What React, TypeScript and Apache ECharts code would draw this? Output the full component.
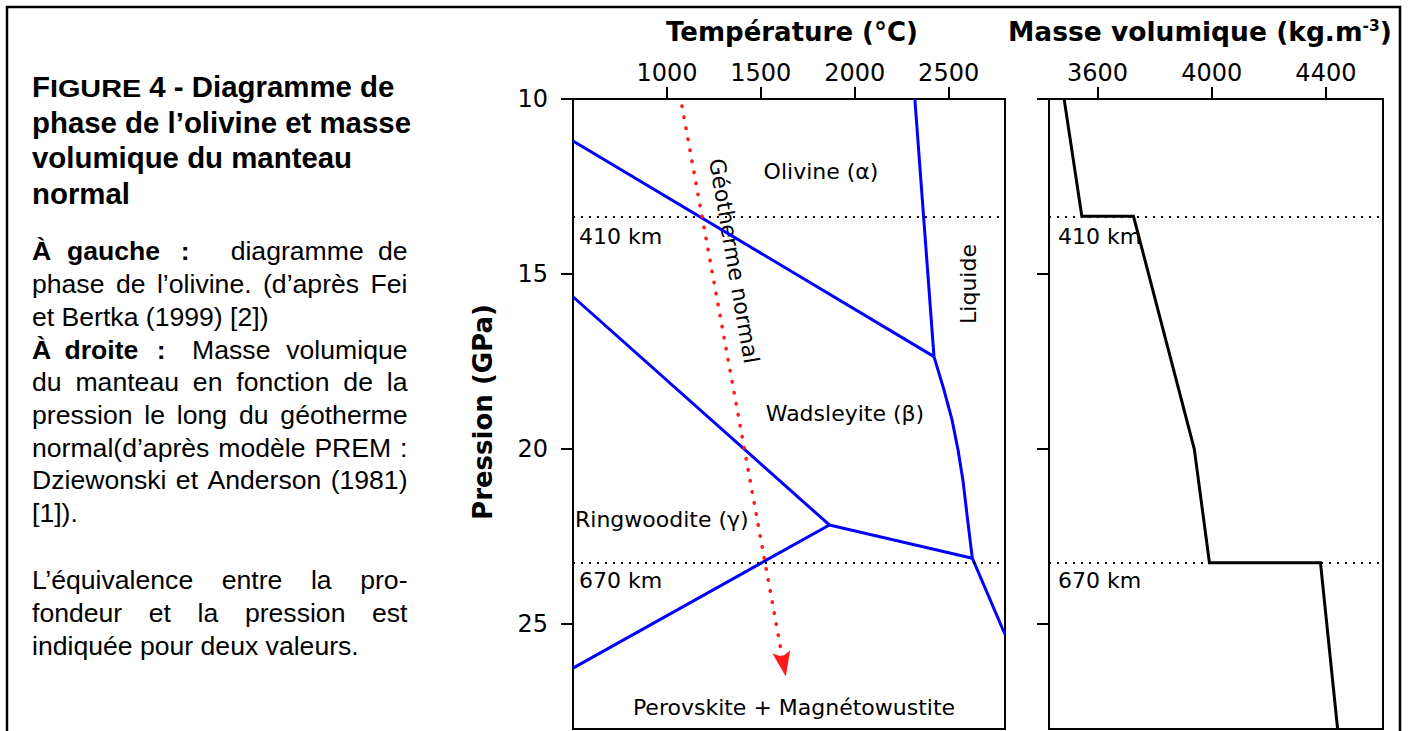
import { useEffect, useRef } from "react";
import * as echarts from "echarts";

// ---------- Data ----------
const temperatureTicks = [1000, 1500, 2000, 2500];
const densityTicks = [3600, 4000, 4400];
const pressureTicks = [10, 15, 20, 25];

// Phase boundaries of olivine: [temperature °C, pressure GPa]
const olivineWadsleyite = [[500, 11.2], [2422, 17.36]];
const olivineLiquidus = [[2320, 10], [2422, 17.36]];
const wadsleyiteLiquidus = [[2422, 17.36], [2475, 18.31], [2518, 19.17], [2550, 20.03], [2576, 20.89], [2598, 21.89], [2626, 23.12]];
const wadsleyiteRingwoodite = [[500, 15.65], [1865, 22.17]];
const ringwooditePerovskite = [[1865, 22.17], [500, 26.26]];
const wadsleyitePerovskite = [[1865, 22.17], [2626, 23.12]];
const perovskiteLiquidus = [[2626, 23.12], [2800, 25.3]];

// Normal geotherm (arrow)
const geotherm = [[1080, 10.2], [1621, 26.15]];

// Depth markers (pressure GPa)
const depthPressures = [13.35, 23.25];
const depthLabels = ["410 km", "670 km"];

// PREM density: [kg.m-3, pressure GPa]
const density = [[3483, 10], [3545, 13.35], [3726, 13.35], [3939, 20], [3992, 23.25], [4381, 23.25], [4441, 28]];

// ---------- Styling helpers ----------
const TEXT_FONT = '"Liberation Sans", Arial, Helvetica, sans-serif';
const PLOT_FONT = '"DejaVu Sans", sans-serif';
const CENTRAL = 0.3465;

let ctx2d: CanvasRenderingContext2D | null = null;
function measure(text: string, size: number, bold: boolean): number {
  if (!ctx2d) ctx2d = document.createElement("canvas").getContext("2d");
  ctx2d!.font = `${bold ? "bold " : ""}${size}px ${TEXT_FONT}`;
  return ctx2d!.measureText(text).width;
}

type Run = { t: string; b?: boolean; s?: number; sx?: number };
type Word = { runs: Run[]; gap?: number };

function textEl(x: number, y: number, text: string, size: number, bold: boolean, family: string, align = "left", extra: any = {}) {
  return {
    type: "text",
    x,
    y,
    silent: true,
    ...extra,
    style: {
      text,
      fontSize: size,
      fontWeight: bold ? "bold" : "normal",
      fontFamily: family,
      fill: "#000",
      textAlign: align,
      textVerticalAlign: "middle",
    },
  };
}

const X0 = 32;
const X1 = 407.5;

function w(t: string, b = false, gap?: number): Word {
  return { runs: [{ t, b }], gap };
}
function words(s: string, b = false): Word[] {
  return s.split(" ").map((t) => w(t, b));
}

function layoutLine(ws: Word[], baseline: number, justify: boolean, size: number): any[] {
  const els: any[] = [];
  const simple = !justify && ws.every((x) => x.runs.length === 1 && x.runs[0].s === undefined && x.runs[0].sx === undefined && x.runs[0].b === ws[0].runs[0].b);
  if (simple) {
    const bold = !!ws[0].runs[0].b;
    els.push(textEl(X0, baseline - CENTRAL * size, ws.map((x) => x.runs[0].t).join(" "), size, bold, TEXT_FONT));
    return els;
  }
  const widths = ws.map((x) => x.runs.reduce((s, r) => s + measure(r.t, r.s ?? size, !!r.b) * (r.sx ?? 1), 0));
  const total = widths.reduce((a, b) => a + b, 0);
  const weights = ws.map((x, i) => (i === 0 ? 0 : x.gap ?? 1));
  const wsum = weights.reduce((a, b) => a + b, 0);
  const space = measure(" ", size, !!ws[0].runs[0].b);
  const unit = justify && wsum > 0 ? (X1 - X0 - total) / wsum : space;
  let x = X0;
  ws.forEach((word, i) => {
    x += weights[i] * unit;
    let xr = x;
    word.runs.forEach((r) => {
      const s = r.s ?? size;
      els.push(textEl(xr, baseline - CENTRAL * s, r.t, s, !!r.b, TEXT_FONT, "left", { scaleX: r.sx ?? 1 }));
      xr += measure(r.t, s, !!r.b) * (r.sx ?? 1);
    });
    x += widths[i];
  });
  return els;
}

function buildTextPanel(): any[] {
  const T = 29.4;
  const B = 26.6;
  const els: any[] = [];
  // Title
  els.push(
    ...layoutLine(
      [
        { runs: [{ t: "F", b: true }, { t: "IGURE", b: true, s: 24, sx: 1.2 }] },
        w("4", true),
        w("-", true),
        w("Diagramme", true),
        w("de", true),
      ],
      97,
      false,
      T
    )
  );
  els.push(...layoutLine(words("phase de l’olivine et masse", true), 132.5, false, T));
  els.push(...layoutLine(words("volumique du manteau", true), 168, false, T));
  els.push(...layoutLine(words("normal", true), 203.5, false, T));
  // Body
  els.push(...layoutLine([w("À", true), w("gauche", true), w(":", true, 1.3), w("diagramme", false, 2.6), w("de", false, 0.9)], 260.5, true, B));
  els.push(...layoutLine(words("phase de l’olivine. (d’après Fei"), 293.5, true, B));
  els.push(...layoutLine(words("et Bertka (1999) [2])"), 326.5, false, B));
  els.push(...layoutLine([w("À", true), w("droite", true), w(":", true, 1.4), w("Masse", false, 2), w("volumique", false, 1.2)], 359, true, B));
  els.push(...layoutLine(words("du manteau en fonction de la"), 391.5, true, B));
  els.push(...layoutLine(words("pression le long du géotherme"), 424, true, B));
  els.push(...layoutLine(words("normal(d’après modèle PREM :"), 457, true, B));
  els.push(...layoutLine(words("Dziewonski et Anderson (1981)"), 489.5, true, B));
  els.push(...layoutLine(words("[1])."), 522.5, false, B));
  els.push(...layoutLine(words("L’équivalence entre la pro-"), 589.5, true, B));
  els.push(...layoutLine(words("fondeur et la pression est"), 622, true, B));
  els.push(...layoutLine(words("indiquée pour deux valeurs."), 655, false, B));
  return els;
}

function plotTexts(): any[] {
  const A = 22;
  const TT = 26;
  const els: any[] = [];
  // axis titles
  els.push(textEl(792, 41 - CENTRAL * TT, "Température (°C)", TT, true, PLOT_FONT, "center"));
  els.push(textEl(483, 412, "Pression (GPa)", TT, true, PLOT_FONT, "center", { rotation: Math.PI / 2 }));
  // density title with superscript
  const ctx = document.createElement("canvas").getContext("2d")!;
  const mw = (t: string, s: number) => {
    ctx.font = `bold ${s}px ${PLOT_FONT}`;
    return ctx.measureText(t).width;
  };
  const TM = 26.5;
  const main = "Masse volumique (kg.m";
  const x0 = 1008;
  els.push(textEl(x0, 41 - CENTRAL * TM, main, TM, true, PLOT_FONT));
  const x1 = x0 + mw(main, TM);
  els.push(textEl(x1, 31 - CENTRAL * 15.5, "-3", 15.5, true, PLOT_FONT));
  const x2 = x1 + mw("-3", 15.5);
  els.push(textEl(x2, 41 - CENTRAL * TM, ")", TM, true, PLOT_FONT));
  // annotations
  els.push(textEl(821, 179 - CENTRAL * A, "Olivine (α)", A, false, PLOT_FONT, "center"));
  els.push(textEl(845, 421 - CENTRAL * A, "Wadsleyite (β)", A, false, PLOT_FONT, "center"));
  els.push(textEl(575, 527 - CENTRAL * A, "Ringwoodite (γ)", A, false, PLOT_FONT, "left"));
  els.push(textEl(794, 715 - CENTRAL * A, "Perovskite + Magnétowustite", A, false, PLOT_FONT, "center"));
  els.push(textEl(734, 261, "Géotherme normal", A, false, PLOT_FONT, "center", { rotation: -1.4 }));
  els.push(textEl(968, 284, "Liquide", A, false, PLOT_FONT, "center", { rotation: Math.PI / 2 }));
  const depthBaselines = [244, 588];
  depthLabels.forEach((lab, i) => {
    els.push(textEl(579, depthBaselines[i] - CENTRAL * A, lab, A, false, PLOT_FONT));
    els.push(textEl(1058, depthBaselines[i] - CENTRAL * A, lab, A, false, PLOT_FONT));
  });
  return els;
}

function buildOption(): any {
  const axisLine = { show: true, lineStyle: { color: "#000", width: 2 } };
  const tick = (values: number[]) => ({ show: true, customValues: values, length: 12, inside: false, lineStyle: { color: "#000", width: 2 } });
  const label = (values: number[], margin: number) => ({
    show: true,
    customValues: values,
    fontSize: 24,
    fontFamily: PLOT_FONT,
    color: "#000",
    margin,
    formatter: (v: number) => String(v),
  });

  const depthMarkLine = {
    silent: true,
    symbol: ["none", "none"],
    label: { show: false },
    lineStyle: { color: "#000", width: 2, type: [2, 6] },
    data: depthPressures.map((p) => ({ yAxis: p })),
  };

  const blue = (name: string, data: number[][], extra: any = {}) => ({
    name,
    type: "line",
    xAxisIndex: 0,
    yAxisIndex: 0,
    data,
    symbol: "none",
    showSymbol: false,
    silent: true,
    z: 3,
    lineStyle: { color: "#0000ff", width: 3, join: "miter" },
    ...extra,
  });

  return {
    animation: false,
    backgroundColor: "#fff",
    grid: [
      { left: 573, top: 99, width: 432, height: 630, show: true, borderColor: "#000", borderWidth: 2, backgroundColor: "transparent" },
      { left: 1049, top: 99, width: 334, height: 630, show: true, borderColor: "#000", borderWidth: 2, backgroundColor: "transparent" },
    ],
    xAxis: [
      { gridIndex: 0, type: "value", position: "top", min: 500, max: 2800, axisLine, axisTick: tick(temperatureTicks), axisLabel: label(temperatureTicks, 14), splitLine: { show: false } },
      { gridIndex: 1, type: "value", position: "top", min: 3430, max: 4600, axisLine, axisTick: tick(densityTicks), axisLabel: label(densityTicks, 14), splitLine: { show: false } },
    ],
    yAxis: [
      { gridIndex: 0, type: "value", inverse: true, min: 10, max: 28, axisLine, axisTick: tick(pressureTicks), axisLabel: label(pressureTicks, 25), splitLine: { show: false } },
      { gridIndex: 1, type: "value", inverse: true, min: 10, max: 28, axisLine, axisTick: tick(pressureTicks), axisLabel: { show: false }, splitLine: { show: false } },
    ],
    series: [
      blue("Olivine / Wadsleyite", olivineWadsleyite, { markLine: depthMarkLine }),
      blue("Olivine / Liquide", olivineLiquidus),
      blue("Wadsleyite / Liquide", wadsleyiteLiquidus),
      blue("Wadsleyite / Ringwoodite", wadsleyiteRingwoodite),
      blue("Ringwoodite / Perovskite", ringwooditePerovskite),
      blue("Wadsleyite / Perovskite", wadsleyitePerovskite),
      blue("Perovskite / Liquide", perovskiteLiquidus),
      {
        name: "Géotherme normal",
        type: "line",
        xAxisIndex: 0,
        yAxisIndex: 0,
        data: [],
        silent: true,
        z: 4,
        markLine: {
          silent: true,
          symbol: ["none", "path://M9,0L18,25L9,20L0,25Z"],
          symbolSize: [18, 25],
          label: { show: false },
          lineStyle: { color: "#ff1a1a", width: 3.5, type: [0.5, 10.7], cap: "round" },
          data: [[{ coord: geotherm[0] }, { coord: geotherm[1] }]],
        },
      },
      {
        name: "Masse volumique",
        type: "line",
        xAxisIndex: 1,
        yAxisIndex: 1,
        data: density,
        symbol: "none",
        showSymbol: false,
        silent: true,
        lineStyle: { color: "#000", width: 3, join: "miter" },
        markLine: depthMarkLine,
      },
    ],
    graphic: {
      elements: [
        {
          type: "polyline",
          silent: true,
          shape: { points: [[7, 760], [7, 7], [1400, 7], [1400, 760]] },
          style: { stroke: "#000", lineWidth: 2.5, fill: null },
        },
        ...buildTextPanel(),
        ...plotTexts(),
      ],
    },
  };
}

export default function App() {
  const ref = useRef<HTMLDivElement>(null);
  useEffect(() => {
    const chart = echarts.init(ref.current!, null, { renderer: "svg" });
    chart.setOption(buildOption());
    return () => chart.dispose();
  }, []);
  return <div ref={ref} style={{ position: "absolute", left: 0, top: 0, width: 1408, height: 731, background: "#fff" }} />;
}
